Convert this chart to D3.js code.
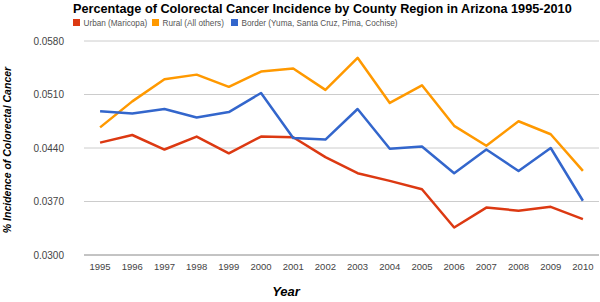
<!DOCTYPE html>
<html>
<head>
<meta charset="utf-8">
<script src="https://cdn.jsdelivr.net/npm/d3@7"></script>
<style>
  body { margin: 0; background: #fff; }
  text { font-family: "Liberation Sans", Arial, sans-serif; }
</style>
</head>
<body>
<script>
//////////////// Data ////////////////////
var years = ["1995","1996","1997","1998","1999","2000","2001","2002","2003","2004","2005","2006","2007","2008","2009","2010"];
var urban  = [0.0447,0.0457,0.0438,0.0455,0.0433,0.0455,0.0454,0.0428,0.0407,0.0397,0.0386,0.0336,0.0362,0.0358,0.0363,0.0347];
var rural  = [0.0467,0.0501,0.0530,0.0536,0.0520,0.0540,0.0544,0.0516,0.0558,0.0499,0.0522,0.0469,0.0443,0.0475,0.0458,0.0410];
var border = [0.0488,0.0485,0.0491,0.0480,0.0487,0.0512,0.0453,0.0451,0.0491,0.0439,0.0442,0.0407,0.0438,0.0410,0.0440,0.0371];
var seriesNames = ["Urban (Maricopa)", "Rural (All others)", "Border (Yuma, Santa Cruz, Pima, Cochise)"];
var yTicks = [0.030, 0.037, 0.044, 0.051, 0.058];

var colors = ["#dc3912", "#ff9900", "#3366cc"];
var series = [urban, rural, border];

//////////////// Variables ////////////////////
var W = 600, H = 302;
var svg = d3.select("body").append("svg").attr("width", W).attr("height", H);

var x = d3.scalePoint().domain(years).range([84, 599]).padding(0.5);
var y = d3.scaleLinear().domain([0.030, 0.058]).range([255, 41]);

//////////////// Title + legend ////////////////////
svg.append("text")
  .attr("x", 73).attr("y", 13)
  .style("font-size", "12.7px").style("font-weight", "bold")
  .text("Percentage of Colorectal Cancer Incidence by County Region in Arizona 1995-2010");

var legX = [73, 152, 231];
var leg = svg.selectAll("g.leg").data(seriesNames).enter().append("g")
  .attr("class", "leg")
  .attr("transform", function(d, i){ return "translate(" + legX[i] + ",19)"; });
leg.append("rect").attr("width", 7).attr("height", 7)
  .attr("fill", function(d, i){ return colors[i]; });
leg.append("text").attr("x", 10.5).attr("y", 6.5)
  .style("font-size", "8.2px").attr("fill", "#555")
  .text(function(d){ return d; });

//////////////// Grid + axes ////////////////////
svg.selectAll("line.grid").data(yTicks).enter().append("line")
  .attr("class", "grid")
  .attr("x1", 84).attr("x2", 599)
  .attr("y1", function(d){ return y(d); }).attr("y2", function(d){ return y(d); })
  .attr("stroke", function(d, i){ return i === 0 ? "#888" : "#ccc"; })
  .attr("stroke-width", 1);

svg.selectAll("text.ytick").data(yTicks).enter().append("text")
  .attr("class", "ytick")
  .attr("x", 64).attr("y", function(d){ return y(d) + 3.5; })
  .attr("text-anchor", "end")
  .style("font-size", "10px").attr("fill", "#444")
  .text(function(d){ return d3.format(".4f")(d); });

svg.selectAll("text.xtick").data(years).enter().append("text")
  .attr("class", "xtick")
  .attr("x", function(d){ return x(d); }).attr("y", 270)
  .attr("text-anchor", "middle")
  .style("font-size", "9.5px").attr("fill", "#444")
  .text(function(d){ return d; });

svg.append("text")
  .attr("x", 286).attr("y", 296)
  .attr("text-anchor", "middle")
  .style("font-size", "13px").style("font-weight", "bold").style("font-style", "italic")
  .text("Year");

svg.append("text")
  .attr("transform", "translate(11,150) rotate(-90)")
  .attr("text-anchor", "middle")
  .style("font-size", "10.5px").style("font-weight", "bold").style("font-style", "italic")
  .text("% Incidence of Colorectal Cancer");

//////////////// Lines ////////////////////
var line = d3.line()
  .x(function(d, i){ return x(years[i]); })
  .y(function(d){ return y(d); });

svg.selectAll("path.series").data(series).enter().append("path")
  .attr("class", "series")
  .attr("d", line)
  .attr("fill", "none")
  .attr("stroke", function(d, i){ return colors[i]; })
  .attr("stroke-width", 2.5)
  .style("stroke-linejoin", "round");
</script>
</body>
</html>
